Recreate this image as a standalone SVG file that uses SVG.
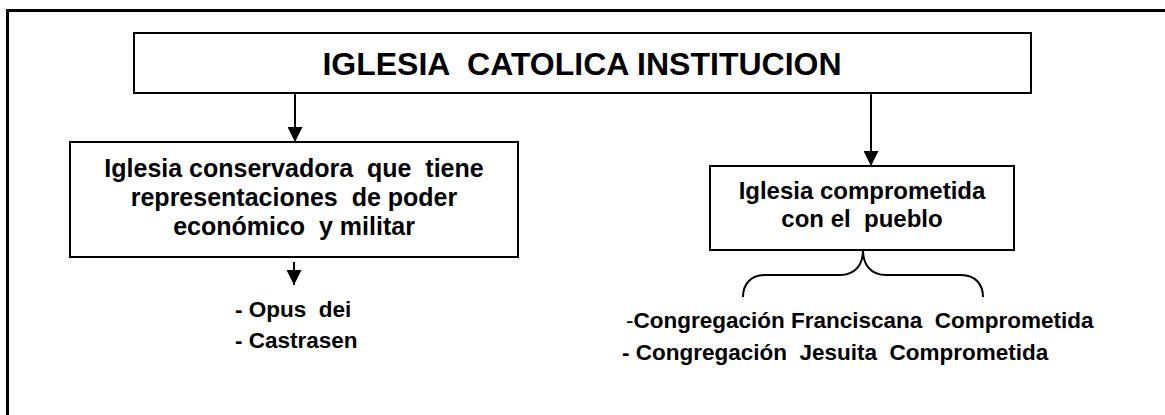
<svg xmlns="http://www.w3.org/2000/svg" width="1165" height="415" viewBox="0 0 1165 415">
<style>
.box{fill:#fff;stroke:#000;stroke-width:2}
.t{font-family:"Liberation Sans",Arial,sans-serif;font-weight:bold;fill:#000}
.c{text-anchor:middle}
.conn{stroke:#000;stroke-width:2;fill:none}
</style>
<defs>
<marker id="ah" viewBox="0 0 15 15" refX="15" refY="7.5" markerWidth="15" markerHeight="15" markerUnits="userSpaceOnUse" orient="auto">
<path d="M0,0 L15,7.5 L0,15 z" fill="#000"/>
</marker>
</defs>
<rect width="1165" height="415" fill="#fff"/>
<rect x="7.5" y="10.5" width="1200" height="450" fill="none" stroke="#000" stroke-width="3"/>
<g id="connectors">
<line class="conn" x1="295" y1="93" x2="295" y2="142" marker-end="url(#ah)"/>
<line class="conn" x1="871" y1="93" x2="871" y2="166" marker-end="url(#ah)"/>
<line class="conn" x1="294" y1="262" x2="294" y2="285" marker-end="url(#ah)"/>
<path class="conn" d="M743,297 C743,285 750,275 765,275 L840,275 C855,275 863,265 863,250 C863,265 871,275 886,275 L961,275 C976,275 983,285 983,297"/>
</g>
<g id="node-top">
<rect class="box" x="134" y="33" width="897" height="60"/>
<text class="t c" x="582" y="75" font-size="32" xml:space="preserve">IGLESIA  CATOLICA INSTITUCION</text>
</g>
<g id="node-conservadora">
<rect class="box" x="70" y="142" width="448" height="115"/>
<text class="t c" font-size="25" xml:space="preserve"><tspan x="294" y="177">Iglesia conservadora  que  tiene</tspan><tspan x="294" y="206">representaciones  de poder</tspan><tspan x="294" y="235">económico  y militar</tspan></text>
</g>
<g id="node-opus">
<text class="t" font-size="22.5" xml:space="preserve"><tspan x="235" y="317">- Opus  dei</tspan><tspan x="235" y="348">- Castrasen</tspan></text>
</g>
<g id="node-comprometida">
<rect class="box" x="710" y="166" width="304" height="84"/>
<text class="t c" font-size="24" xml:space="preserve"><tspan x="862" y="199">Iglesia comprometida</tspan><tspan x="862" y="227">con el  pueblo</tspan></text>
</g>
<g id="node-congregaciones">
<text class="t" font-size="22.5" xml:space="preserve"><tspan x="626" y="328"><tspan font-weight="normal">-</tspan>Congregación Franciscana  Comprometida</tspan><tspan x="622" y="360">- Congregación  Jesuita  Comprometida</tspan></text>
</g>
</svg>
